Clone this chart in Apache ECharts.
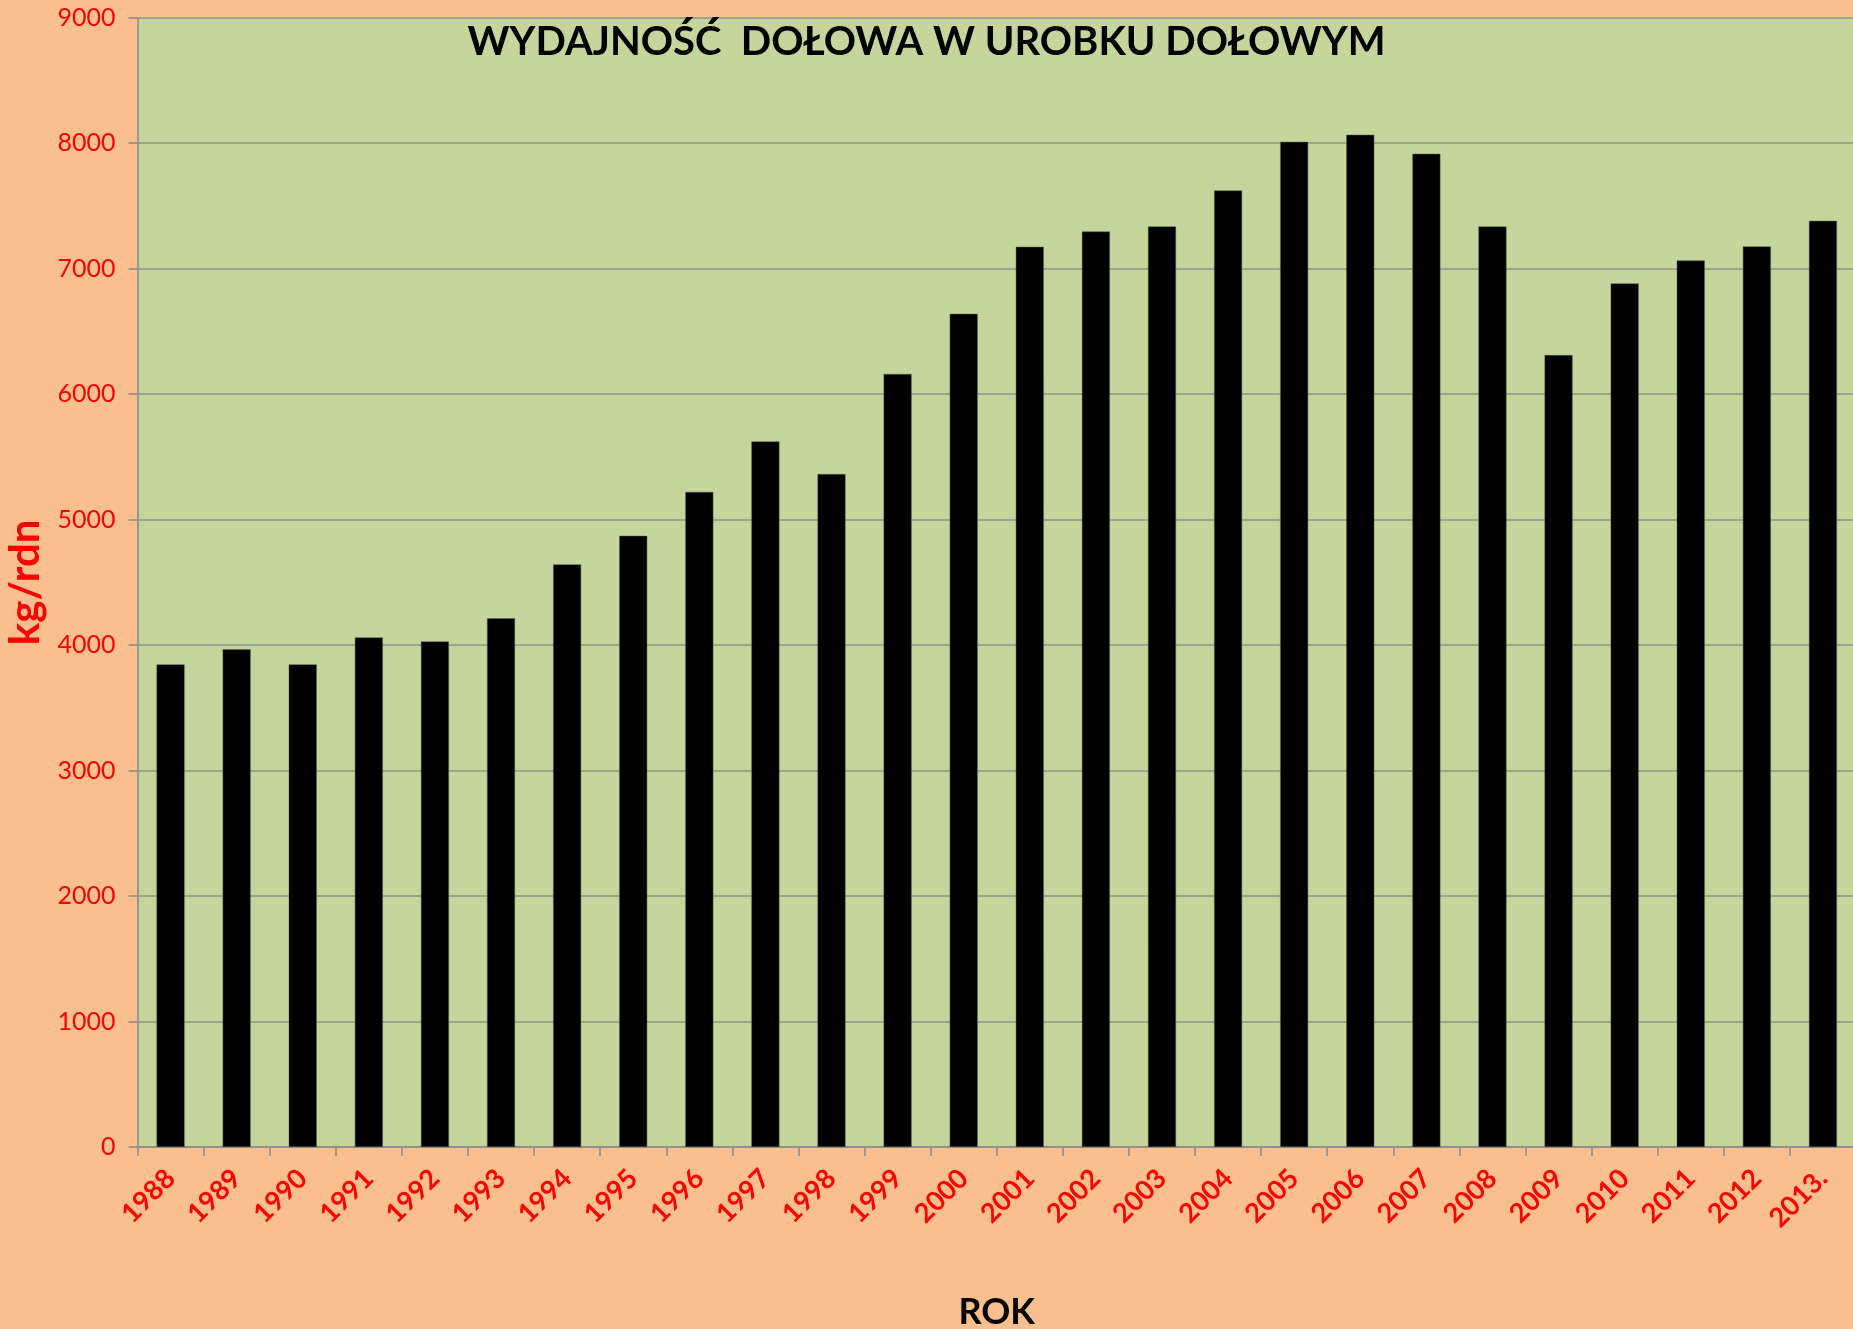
<!DOCTYPE html>
<html>
<head>
<meta charset="utf-8">
<title>Wydajność dołowa</title>
<script src="https://cdn.jsdelivr.net/npm/echarts@6/dist/echarts.min.js"></script>
<style>
  html, body { margin: 0; padding: 0; background: #F9BF8F; }
  #main { width: 1853px; height: 1329px; }
</style>
</head>
<body>
<div id="main"></div>
<script>
// lata
const years = ['1988', '1989', '1990', '1991', '1992', '1993', '1994', '1995', '1996', '1997',
  '1998', '1999', '2000', '2001', '2002', '2003', '2004', '2005', '2006', '2007',
  '2008', '2009', '2010', '2011', '2012', '2013.']
// wydajność kg/rdn
const output = [3846, 3966, 3846, 4061, 4029, 4213, 4643, 4871, 5221, 5623,
  5363, 6160, 6640, 7174, 7296, 7336, 7623, 8011, 8067, 7915,
  7336, 6311, 6882, 7065, 7177, 7381]
const yMin = 0
const yMax = 9000
const yStep = 1000

const font = 'Lato, "Open Sans", sans-serif'
const myChart = echarts.init(document.getElementById('main'))

const option = {
  backgroundColor: '#F9BF8F',
  animation: false,
  title: {
    text: 'WYDAJNOŚĆ  DOŁOWA W UROBKU DOŁOWYM',
    left: 'center',
    top: 17,
    textStyle: { fontFamily: font, fontSize: 40, fontWeight: 'bold', color: '#000' }
  },
  grid: {
    left: 137.5,
    right: -3,
    top: 17.7,
    bottom: 182,
    outerBoundsMode: 'none',
    containLabel: false,
    show: true,
    backgroundColor: '#C4D69B',
    borderWidth: 0
  },
  xAxis: {
    type: 'category',
    data: years,
    name: 'ROK',
    nameLocation: 'middle',
    nameGap: 147,
    nameTextStyle: { fontFamily: font, fontSize: 36, fontWeight: 'bold', color: '#000' },
    axisLine: { lineStyle: { color: '#8A8A8A', width: 1.5 } },
    axisTick: { show: true, length: 9, lineStyle: { color: '#8A8A8A', width: 1.5 } },
    axisLabel: {
      interval: 0,
      rotate: 45,
      margin: 27,
      color: '#FF0000',
      fontFamily: font,
      fontSize: 27,
      fontWeight: 'bold'
    }
  },
  yAxis: {
    type: 'value',
    min: yMin,
    max: yMax,
    interval: yStep,
    name: 'kg/rdn',
    nameLocation: 'middle',
    nameGap: 89,
    nameTextStyle: { fontFamily: font, fontSize: 42, fontWeight: 'bold', color: '#FF0000' },
    axisLine: { show: true, lineStyle: { color: '#8A8A8A', width: 1.5 } },
    axisTick: { show: true, length: 9, lineStyle: { color: '#8A8A8A', width: 1.5 } },
    axisLabel: {
      margin: 22,
      color: '#FF0000',
      fontFamily: font,
      fontSize: 25,
      formatter: v => String(v)
    },
    splitLine: { lineStyle: { color: '#8E958A', width: 1.5 } }
  },
  series: [
    {
      type: 'bar',
      data: output,
      barWidth: 28,
      itemStyle: { color: '#000', borderColor: '#5a5f50', borderWidth: 0.5 }
    }
  ]
}
myChart.setOption(option)
</script>
</body>
</html>
